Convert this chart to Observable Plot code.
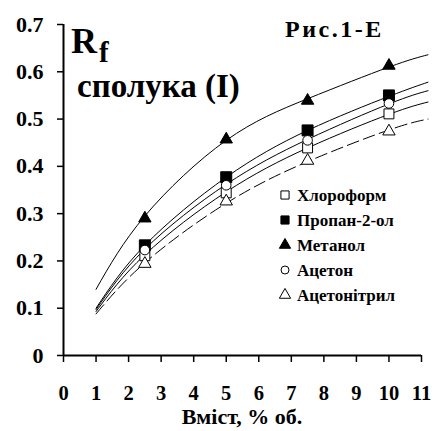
<!DOCTYPE html>
<html>
<head>
<meta charset="utf-8">
<script src="https://cdn.jsdelivr.net/npm/d3@7"></script>
<script src="https://cdn.jsdelivr.net/npm/@observablehq/plot@0.6"></script>
<style>
  html, body { margin: 0; padding: 0; background: white; }
  #chart svg { display: block; }
</style>
</head>
<body>
<div id="chart"></div>
<script>
// ---- data ----
const seriesNames = ["Хлороформ", "Пропан-2-ол", "Метанол", "Ацетон", "Ацетонітрил"];
const contentX = [2.5, 5, 7.5, 10];
const chloroform   = [0.211, 0.344, 0.439, 0.511];
const propanol     = [0.233, 0.377, 0.476, 0.550];
const methanol     = [0.290, 0.457, 0.539, 0.613];
const acetone      = [0.223, 0.360, 0.455, 0.533];
const acetonitrile = [0.194, 0.326, 0.412, 0.474];

// trend lines
const trendX = [1, 2.5, 5, 7.5, 10, 11.2];
const chloroformTrend   = [0.093, 0.213, 0.346, 0.439, 0.510, 0.536];
const propanolTrend     = [0.100, 0.233, 0.377, 0.476, 0.548, 0.578];
const methanolTrend     = [0.140, 0.295, 0.455, 0.543, 0.610, 0.636];
const acetoneTrend      = [0.097, 0.225, 0.362, 0.457, 0.532, 0.560];
const acetonitrileTrend = [0.088, 0.196, 0.322, 0.410, 0.477, 0.500];

const xTicks = [0, 1, 2, 3, 4, 5, 6, 7, 8, 9, 10, 11];
const yTicks = [0, 0.1, 0.2, 0.3, 0.4, 0.5, 0.6, 0.7];
const xLabel = "Вміст, % об.";

const pointSeries = [chloroform, propanol, methanol, acetone, acetonitrile];
const trendSeries = [chloroformTrend, propanolTrend, methanolTrend, acetoneTrend, acetonitrileTrend];
const symbols = ["square", "square", "triangle", "circle", "triangle"];
const fills = ["white", "black", "black", "white", "white"];
const radii = [5.6, 6.2, 4.6, 4.8, 4.6];
const dashes = [null, null, null, null, "12,5"];

const points = seriesNames.flatMap((s, i) => contentX.map((x, j) => ({s, i, x, y: pointSeries[i][j]})));
const trends = seriesNames.flatMap((s, i) => trendX.map((x, j) => ({s, i, x, y: trendSeries[i][j]})));

const FONT = "Liberation Serif";

const marks = [
  Plot.axisY({ticks: yTicks, tickSize: 6, tickPadding: 14, strokeWidth: 1.5, fontSize: 22,
    tickFormat: d => d === 0 ? "0" : d.toFixed(1), label: null}),
  Plot.axisX({ticks: xTicks, tickSize: 7, tickPadding: 23, strokeWidth: 1.5, fontSize: 20.5,
    label: null}),
  Plot.ruleX([0], {y1: 0, y2: 0.7, strokeWidth: 2}),
  Plot.ruleY([0], {x1: 0, x2: 11, strokeWidth: 2})
];
seriesNames.forEach((s, i) => {
  marks.push(Plot.line(trends.filter(d => d.i === i), {
    x: "x", y: "y", curve: "natural", stroke: "black", strokeWidth: 1,
    strokeDasharray: dashes[i] ?? undefined
  }));
});
seriesNames.forEach((s, i) => {
  marks.push(Plot.dot(points.filter(d => d.i === i), {
    x: "x", y: "y", symbol: symbols[i], r: radii[i], fill: fills[i], stroke: "black", strokeWidth: 1
  }));
});

const chart = Plot.plot({
  width: 435, height: 431,
  marginLeft: 63, marginRight: 14, marginTop: 24, marginBottom: 76,
  x: {domain: [0, 11]},
  y: {domain: [0, 0.7]},
  style: {color: "black", background: "white", overflow: "visible"},
  marks
});
document.getElementById("chart").appendChild(chart);

// ---- annotations & legend ----
const svg = d3.select(chart);
const ann = svg.append("g").attr("fill", "black").attr("text-anchor", "start");
ann.append("text").attr("x", 71).attr("y", 53).attr("font-size", 36).text("R");
ann.append("text").attr("x", 99).attr("y", 62).attr("font-size", 29).text("f");
ann.append("text").attr("x", 77).attr("y", 97).attr("font-size", 33).text("сполука (I)");
ann.append("text").attr("x", 285).attr("y", 37).attr("font-size", 24).attr("letter-spacing", 2.5).text("Рис.1-E");
ann.append("text").attr("x", 242).attr("y", 424).attr("font-size", 22).attr("text-anchor", "middle").text(xLabel);

const legendR = [4.6, 4.6, 4.2, 4.0, 4.2];
const lg = svg.append("g").attr("text-anchor", "start");
seriesNames.forEach((s, i) => {
  const cy = 195 + i * 25;
  const symType = {square: d3.symbolSquare, triangle: d3.symbolTriangle, circle: d3.symbolCircle}[symbols[i]];
  lg.append("path")
    .attr("d", d3.symbol(symType, Math.PI * legendR[i] * legendR[i])())
    .attr("transform", `translate(285,${cy})`)
    .attr("fill", fills[i]).attr("stroke", "black").attr("stroke-width", 1);
  lg.append("text").attr("x", 297).attr("y", cy).attr("dy", "0.35em")
    .attr("font-size", 17).attr("fill", "black").text(s);
});

// serif bold font on every text element
svg.selectAll("text")
  .attr("font-family", FONT).attr("font-weight", "bold")
  .style("font-family", FONT).style("font-weight", "bold");
</script>
</body>
</html>
